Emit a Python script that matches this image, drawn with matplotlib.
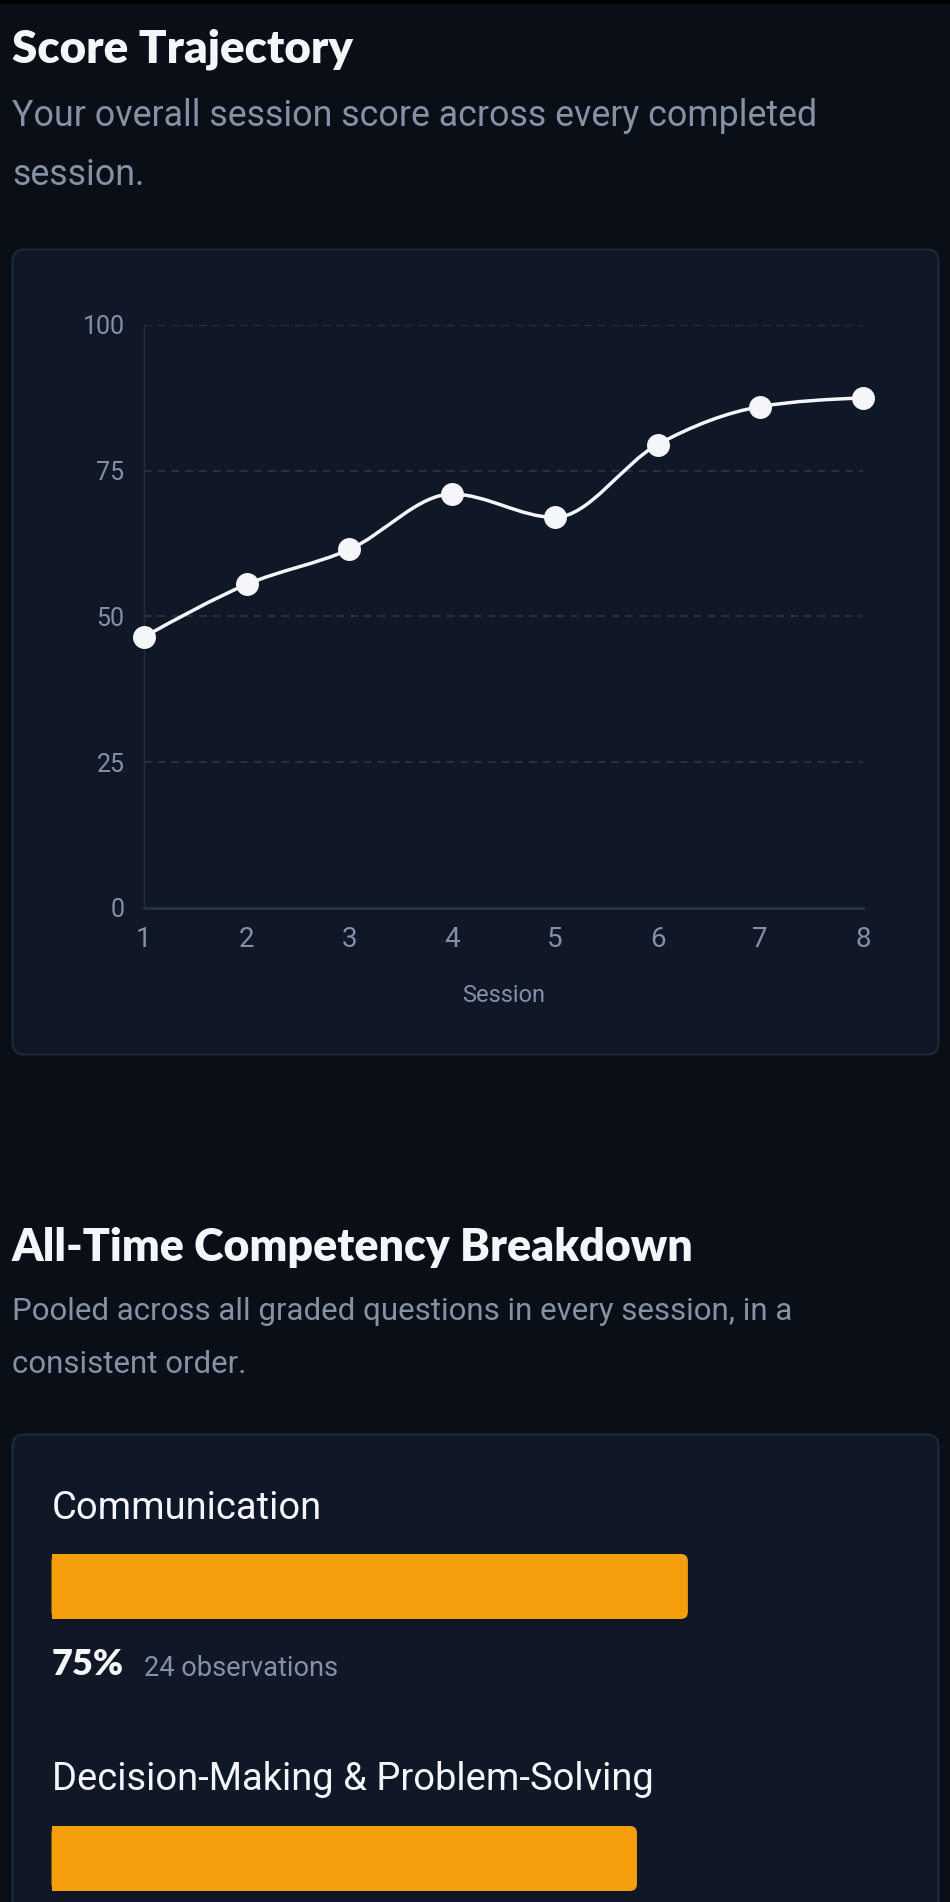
import matplotlib
matplotlib.use("Agg")
import matplotlib.pyplot as plt
from matplotlib import font_manager
from matplotlib.patches import FancyBboxPatch, Rectangle, PathPatch
from matplotlib.path import Path
import numpy as np

# ---------------- data ----------------
sessions = [1, 2, 3, 4, 5, 6, 7, 8]
scores = [46.5, 55.5, 61.5, 71.0, 67.0, 79.5, 86.0, 87.5]
y_ticks = [0, 25, 50, 75, 100]
competencies = ["Communication", "Decision-Making & Problem-Solving"]
competency_pct = [75, 69]
competency_obs = [24, None]

title1 = "Score Trajectory"
sub1 = ["Your overall session score across every completed", "session."]
title2 = "All-Time Competency Breakdown"
sub2 = ["Pooled across all graded questions in every session, in a", "consistent order."]
x_label = "Session"

# ---------------- style ----------------
BG = "#0a0e17"
CARD = "#101727"
CARD_EDGE = "#1e293a"
WHITE = "#f4f6fa"
SUB = "#8591a5"
TICK = "#8390a5"
GRID = "#2d384a"
AXIS = "#222d3f"
AMBER = "#f59e0b"


def has_font(name):
    try:
        font_manager.findfont(font_manager.FontProperties(family=name), fallback_to_default=False)
        return True
    except Exception:
        return False


def first_font(names):
    for nm in names:
        if has_font(nm):
            return nm
    return "DejaVu Sans"


TITLE = first_font(["Liberation Sans Narrow", "Lato", "Roboto", "DejaVu Sans"])
BODY = first_font(["Roboto", "DejaVu Sans"])

W, H = 950, 1902
fig = plt.figure(figsize=(W / 100, H / 100), dpi=100)
fig.patch.set_facecolor(BG)

bg = fig.add_axes([0, 0, 1, 1], zorder=0)
bg.set_xlim(0, W)
bg.set_ylim(H, 0)
bg.axis("off")
bg.set_facecolor(BG)

renderer = fig.canvas.get_renderer()


def fit_text(x, y, s, width, size0=20, **kw):
    t = bg.text(x, y, s, va="baseline", ha="left", **kw)
    t.set_fontsize(size0)
    bb = t.get_window_extent(renderer=renderer)
    t.set_fontsize(size0 * width / bb.width)
    return t


def add_axes_px(x0, y0, x1, y1, **kw):
    return fig.add_axes([x0 / W, 1 - y1 / H, (x1 - x0) / W, (y1 - y0) / H], **kw)


# top strip
bg.add_patch(Rectangle((0, 0), W, 4, color="#000000", lw=0))

# ---------------- section 1 ----------------
fit_text(12, 62, title1, 342, color=WHITE, family=TITLE, weight="heavy")
t = fit_text(12, 126, sub1[0], 803, family=BODY, color=SUB)
bg.text(12, 185, sub1[1], fontsize=t.get_fontsize(), family=BODY, color=SUB, va="baseline", ha="left")

bg.add_patch(FancyBboxPatch((12.5, 249.5), 926, 805, boxstyle="round,pad=0,rounding_size=12",
                            facecolor=CARD, edgecolor=CARD_EDGE, lw=1.5))

ax = add_axes_px(144, 325, 863, 908, zorder=2)
ax.set_facecolor("none")
ax.set_xlim(1, 8)
ax.set_ylim(0, 100)
for s in ["top", "right"]:
    ax.spines[s].set_visible(False)
ax.spines["left"].set_color(AXIS)
ax.spines["left"].set_linewidth(1.0)
ax.spines["bottom"].set_color("#263245")
ax.spines["bottom"].set_linewidth(2)
ax.set_yticks(y_ticks)
ax.set_yticklabels([str(v) for v in y_ticks])
ax.set_xticks(sessions)
ax.set_xticklabels([str(v) for v in sessions])
ax.tick_params(axis="y", length=0, pad=14, labelsize=18, labelcolor=TICK)
ax.tick_params(axis="x", length=0, pad=13, labelsize=20, labelcolor=TICK)
for lab in ax.get_xticklabels() + ax.get_yticklabels():
    lab.set_family(BODY)
for v in y_ticks[1:]:
    ax.axhline(v, color=GRID, lw=1.1, ls=(0, (5, 4)), zorder=1)
ax.set_xlabel(x_label, fontsize=17, color=TICK, family=BODY, labelpad=22)

# monotone-x cubic (d3 curveMonotoneX) through the data points
xs = np.array(sessions, dtype=float)
ys = np.array(scores, dtype=float)
n = len(xs)
h = np.diff(xs)
s = np.diff(ys) / h
t_ = np.zeros(n)
for i in range(1, n - 1):
    p = (s[i - 1] * h[i] + s[i] * h[i - 1]) / (h[i - 1] + h[i])
    t_[i] = (np.sign(s[i - 1]) + np.sign(s[i])) * min(abs(s[i - 1]), abs(s[i]), 0.5 * abs(p))
t_[0] = (3 * s[0] - t_[1]) / 2
t_[-1] = (3 * s[-1] - t_[-2]) / 2
verts = [(xs[0], ys[0])]
codes = [Path.MOVETO]
for i in range(n - 1):
    dx = h[i] / 3
    verts += [(xs[i] + dx, ys[i] + dx * t_[i]), (xs[i + 1] - dx, ys[i + 1] - dx * t_[i + 1]),
              (xs[i + 1], ys[i + 1])]
    codes += [Path.CURVE4] * 3
ax.add_patch(PathPatch(Path(verts, codes), facecolor="none", edgecolor=WHITE, lw=2.5,
                       zorder=3, clip_on=False, capstyle="round", joinstyle="round"))
ax.plot(sessions, scores, "o", ms=15.5, color=WHITE, mec=WHITE, zorder=4, clip_on=False)

# ---------------- section 2 ----------------
fit_text(12, 1261, title2, 682, color=WHITE, family=TITLE, weight="heavy")
t = fit_text(12, 1320, sub2[0], 779, family=BODY, color=SUB)
bg.text(12, 1372.7, sub2[1], fontsize=t.get_fontsize(), family=BODY, color=SUB, va="baseline", ha="left")

bg.add_patch(FancyBboxPatch((12.5, 1434.5), 926, 700, boxstyle="round,pad=0,rounding_size=12",
                            facecolor=CARD, edgecolor=CARD_EDGE, lw=1.5))

label_base = [1519, 1790]
bar_top = [1554, 1826]
bar_h = 65
left, right = 51.5, 900
lab_size = None
for i, (name, pct) in enumerate(zip(competencies, competency_pct)):
    if lab_size is None:
        tt = fit_text(left, label_base[i], name, 270, family=BODY, color=WHITE)
        lab_size = tt.get_fontsize()
    else:
        bg.text(left, label_base[i], name, fontsize=lab_size, family=BODY, color=WHITE,
                va="baseline", ha="left")
    bax = add_axes_px(left, bar_top[i], right, bar_top[i] + bar_h, zorder=2)
    bax.set_xlim(0, 100)
    bax.set_ylim(0, 1)
    bax.axis("off")
    r = 7 / (right - left) * 100
    asp = (1 / bar_h) / (100 / (right - left))
    bax.add_patch(FancyBboxPatch((0, 0), pct, 1, boxstyle=f"round,pad=0,rounding_size={r}",
                                 mutation_aspect=asp, facecolor=AMBER, edgecolor="none", clip_on=False))
    bax.add_patch(Rectangle((0, 0), pct / 2, 1, facecolor=AMBER, edgecolor="none", clip_on=False))
    if competency_obs[i] is not None:
        fit_text(left, bar_top[i] + 121, f"{pct}%", 72, color=WHITE, family=TITLE, weight="heavy")
        fit_text(144, bar_top[i] + 122, f"{competency_obs[i]} observations", 194, family=BODY, color=SUB)

fig.savefig("out.png", dpi=100, facecolor=BG)
